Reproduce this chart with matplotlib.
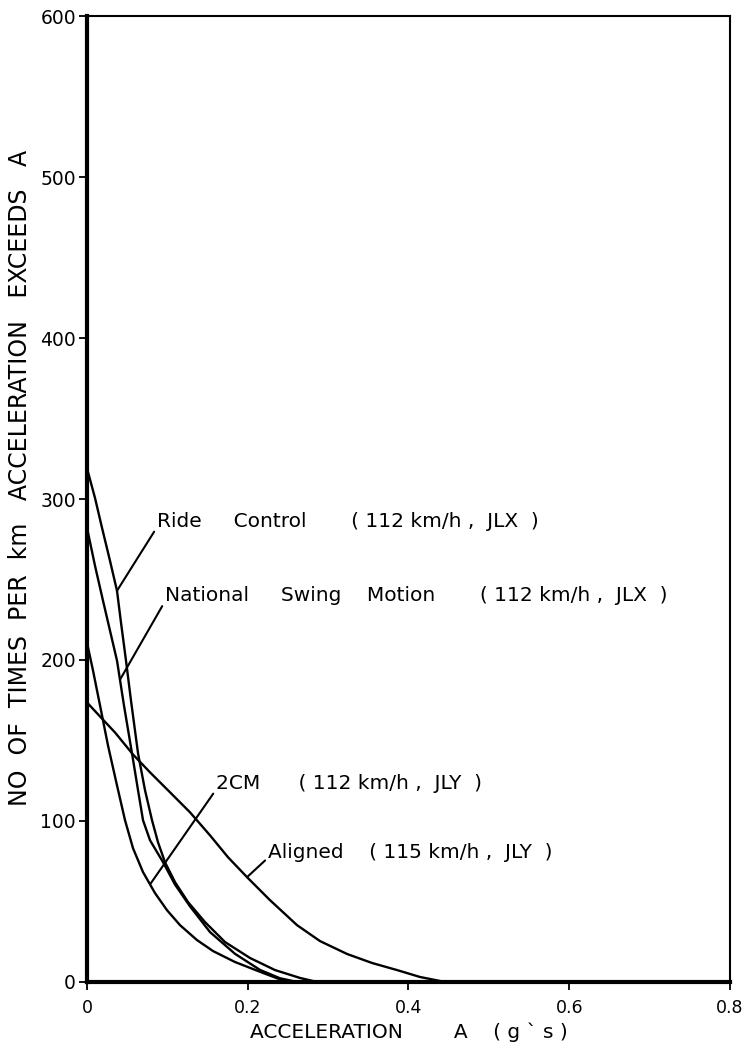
import numpy as np
import matplotlib
matplotlib.use("Agg")
import matplotlib.pyplot as plt

# exceedance curves: acceleration (g) vs number of times per km
ride_x = [0.0, 0.00995, 0.0187, 0.0286, 0.0373, 0.0423, 0.0485, 0.0547, 0.0635, 0.0722,
          0.0809, 0.0883, 0.0970, 0.1095, 0.1257, 0.1468, 0.1717, 0.2028, 0.2339, 0.2650,
          0.2862, 0.8]
ride_y = [319, 300.6, 282.0, 261.6, 243.0, 223.1, 199.6, 174.8, 141.9, 119.0,
          100.4, 86.8, 74.4, 62.0, 49.6, 37.2, 24.8, 14.9, 7.4, 2.5,
          0, 0]

nat_x = [0.0, 0.00995, 0.0199, 0.0286, 0.0373, 0.0460, 0.0560, 0.0635, 0.0697, 0.0784,
         0.0946, 0.1095, 0.1281, 0.1530, 0.1841, 0.2152, 0.2401, 0.2613, 0.8]
nat_y = [282.0, 258.5, 236.8, 218.2, 199.6, 171.7, 141.9, 119.0, 100.4, 88.0,
         74.4, 60.5, 47.0, 31.0, 17.5, 7.5, 2.3, 0, 0]

cm_x = [0.0, 0.00747, 0.0162, 0.0261, 0.0373, 0.0473, 0.0572, 0.0697, 0.0846, 0.0995,
        0.1157, 0.1369, 0.1568, 0.1841, 0.2190, 0.2488, 0.8]
cm_y = [210.7, 193.4, 171.7, 146.9, 122.1, 100.4, 83.1, 68.2, 55.2, 44.6,
        35.3, 26.0, 19.2, 12.4, 5.6, 0, 0]

al_x = [0.0, 0.0162, 0.0348, 0.0572, 0.0784, 0.1033, 0.1281, 0.1530, 0.1754, 0.1991,
        0.2277, 0.2613, 0.2899, 0.3235, 0.3546, 0.3857, 0.4143, 0.4454, 0.8]
al_y = [173.6, 164.9, 155.0, 141.3, 130.2, 117.8, 105.4, 91.1, 77.5, 65.1,
        50.8, 35.3, 25.4, 17.4, 11.8, 7.4, 3.1, 0, 0]

labels = ["Ride     Control       ( 112 km/h ,  JLX  )",
          "National     Swing    Motion       ( 112 km/h ,  JLX  )",
          "2CM      ( 112 km/h ,  JLY  )",
          "Aligned    ( 115 km/h ,  JLY  )"]

x_ticks = [0, 0.2, 0.4, 0.6, 0.8]
x_ticklabels = ["0", "0.2", "0.4", "0.6", "0.8"]
y_ticks = [0, 100, 200, 300, 400, 500, 600]

fig = plt.figure(figsize=(7.47, 10.49), dpi=100)
ax = fig.add_axes([0.1165, 0.0639, 0.8607, 0.9208])

series = [(ride_x, ride_y), (nat_x, nat_y), (cm_x, cm_y), (al_x, al_y)]
for sx, sy in series:
    ax.plot(sx, sy, color="black", lw=1.7, solid_joinstyle="round")

# label position (left edge, centre) and the x where the leader meets its curve
label_pos = [(0.087, 286), (0.097, 240), (0.1605, 123), (0.225, 80.6)]
leader_x = [0.0373, 0.041, 0.0784, 0.1991]

for (sx, sy), text, (tx, ty), lx in zip(series, labels, label_pos, leader_x):
    ly = np.interp(lx, sx, sy)
    ax.annotate(text, xy=(lx, ly), xytext=(tx, ty), textcoords="data",
                ha="left", va="center", fontsize=14.5,
                arrowprops=dict(arrowstyle="-", color="black", lw=1.5,
                                shrinkA=0, shrinkB=0, relpos=(0, 0.2)))

ax.set_xlim(0, 0.8)
ax.set_ylim(0, 600)
ax.set_xticks(x_ticks)
ax.set_xticklabels(x_ticklabels)
ax.set_yticks(y_ticks)
ax.tick_params(axis="both", direction="out", length=6, width=1.3)
ax.tick_params(axis="x", pad=6, labelsize=12.5)
ax.tick_params(axis="y", labelsize=13.5, pad=2)

ax.spines["left"].set_linewidth(3)
ax.spines["bottom"].set_linewidth(3)
ax.spines["top"].set_linewidth(1.5)
ax.spines["right"].set_linewidth(1.5)

ax.set_xlabel("ACCELERATION        A    ( g ` s )", fontsize=14.5, labelpad=4)
ax.set_ylabel("NO  OF  TIMES  PER  km   ACCELERATION   EXCEEDS   A", fontsize=17)
ax.yaxis.set_label_coords(-0.085, 0.522)

fig.savefig("out.png", dpi=100)
